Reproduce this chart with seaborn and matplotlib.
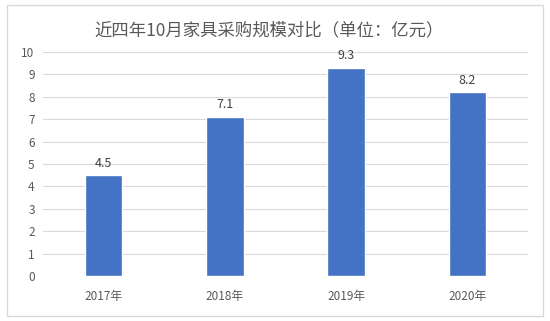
import matplotlib
matplotlib.use("Agg")
import matplotlib.pyplot as plt
import seaborn as sns
import pandas as pd
from matplotlib.patches import Rectangle

years = ["2017年", "2018年", "2019年", "2020年"]
values = [4.5, 7.1, 9.3, 8.2]
yticks = list(range(0, 11))
title = "近四年10月家具采购规模对比（单位：亿元）"

sns.set_theme(style="white")
plt.rcParams['font.family'] = ['Noto Sans CJK SC', 'DejaVu Sans']

df = pd.DataFrame({"year": years, "value": values})

fig = plt.figure(figsize=(5.5, 3.21), dpi=100)
fig.patch.set_facecolor("white")
fig.add_artist(Rectangle((7/550, 5/321), 536/550, 311/321, transform=fig.transFigure,
                         fill=False, edgecolor="#d9d9d9", linewidth=1.0))
ax = fig.add_axes([43/550, 1-276/321, 485/550, 224/321])
sns.barplot(data=df, x="year", y="value", color="#4472C4", saturation=1, width=0.31, ax=ax, zorder=3)
ax.set_ylim(0, 10)
ax.set_yticks(yticks)
ax.grid(axis="y", color="#d9d9d9", linewidth=0.8, zorder=0)
ax.set_axisbelow(True)
for s in ax.spines.values():
    s.set_visible(False)
ax.tick_params(axis="both", length=0, labelsize=8.5, colors="#595959", pad=6)
ax.tick_params(axis="x", pad=10)
ax.set_xlabel("")
ax.set_ylabel("")
for c in ax.containers:
    ax.bar_label(c, labels=[f"{v:.1f}" for v in values], fontsize=9, color="#404040", padding=4)
fig.text(0.49, 1-30/321, title, ha="center", va="center", fontsize=12.5, color="#595959")
fig.savefig("out.png", dpi=100)
